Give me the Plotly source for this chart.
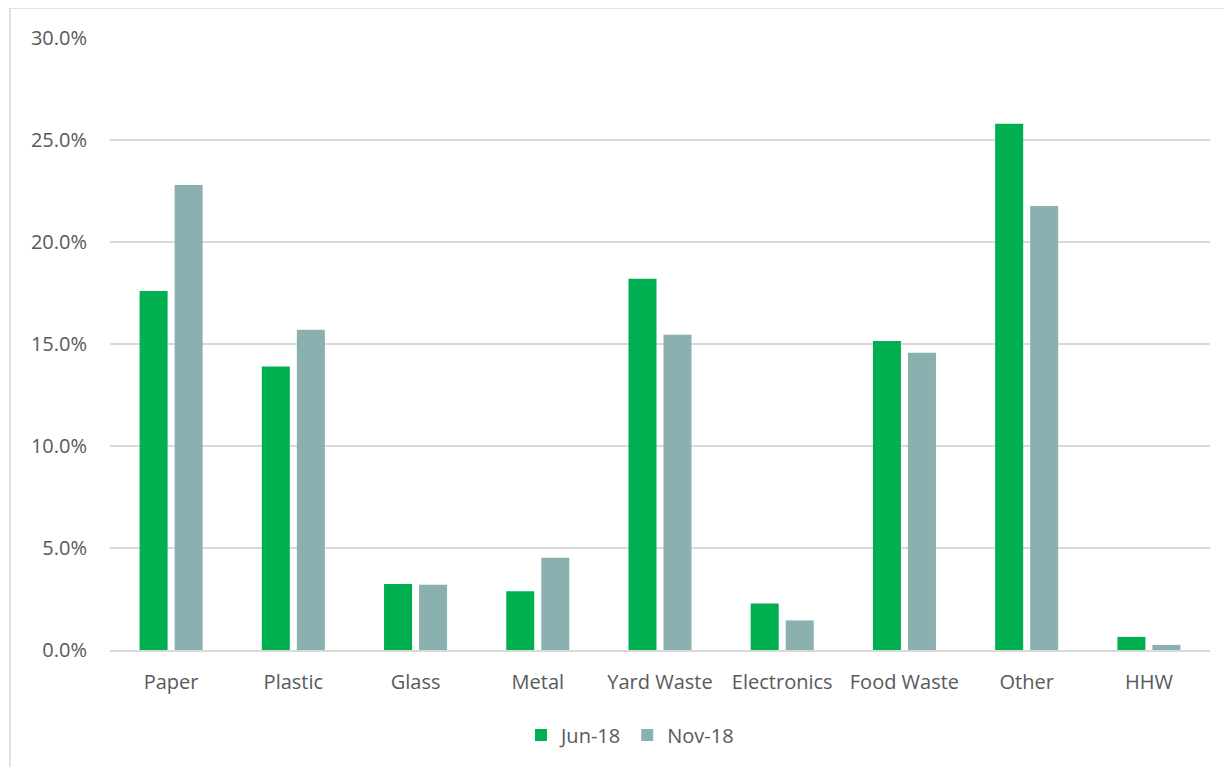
import plotly.graph_objects as go

categories = ["Paper", "Plastic", "Glass", "Metal", "Yard Waste", "Electronics", "Food Waste", "Other", "HHW"]
jun18 = [0.176, 0.139, 0.0324, 0.0288, 0.182, 0.0228, 0.1515, 0.258, 0.0064]
nov18 = [0.228, 0.157, 0.032, 0.0452, 0.1545, 0.0145, 0.1457, 0.2177, 0.0025]
tick_vals = [0, 0.05, 0.10, 0.15, 0.20, 0.25, 0.30]

fig = go.Figure()
fig.add_trace(go.Bar(name="Jun-18", x=categories, y=jun18, marker=dict(color="#00B050", line=dict(width=0))))
fig.add_trace(go.Bar(name="Nov-18", x=categories, y=nov18, marker=dict(color="#8AB1AF", line=dict(width=0))))

OFF = 8  # page body margin
W, H = 1232 - OFF, 767 - OFF
L, R, T, B = 110 - OFF, 22, 38 - OFF, 117
pw = W - L - R
ph = H - T - B

# convert page pixel coordinates to paper coordinates
def px(x):
    return (x - OFF - L) / pw

def py(y):
    return (H - B - (y - OFF)) / ph

fig.update_layout(
    width=W, height=H,
    margin=dict(l=L, r=R, t=T, b=B, autoexpand=False),
    paper_bgcolor="white", plot_bgcolor="white",
    barmode="group", bargap=0.427, bargroupgap=0.2,
    font=dict(family="Open Sans, Liberation Sans, sans-serif", size=20, color="#595959"),
    xaxis=dict(showgrid=False, showline=True, linecolor="#d9d9d9", linewidth=1.5,
               ticks="", ticklabelstandoff=13, tickfont=dict(size=20, color="#595959")),
    yaxis=dict(range=[0, 0.30], tickvals=tick_vals, tickformat=".1%",
               showgrid=True, gridcolor="#d9d9d9", gridwidth=1.5, zeroline=False,
               showline=False, ticks="", ticklabelstandoff=22,
               tickfont=dict(size=20, color="#595959")),
    legend=dict(orientation="h", x=px(630), y=py(735), xanchor="center", yanchor="middle",
                font=dict(size=20, color="#595959"), itemwidth=30, traceorder="normal"),
    shapes=[dict(type="rect", xref="paper", yref="paper",
                 x0=px(10), x1=px(1245), y0=py(780), y1=py(8),
                 line=dict(color="#d9d9d9", width=1.5), fillcolor="rgba(0,0,0,0)", layer="below")],
)

fig.write_html("out.html")
